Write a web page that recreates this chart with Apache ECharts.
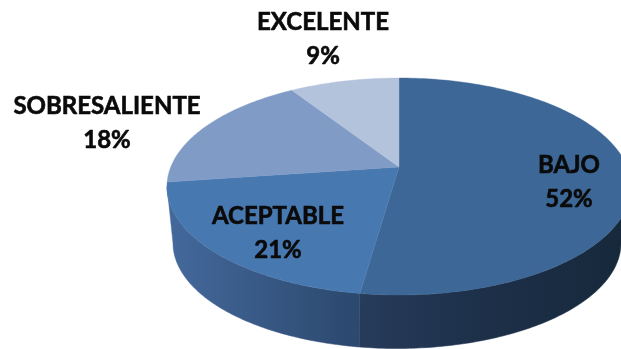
<!DOCTYPE html>
<html>
<head>
<meta charset="utf-8">
<style>html,body{margin:0;padding:0;background:#fff}#chart{width:621px;height:349px}</style>
<script src="https://cdn.jsdelivr.net/npm/echarts@6/dist/echarts.min.js"></script>
</head>
<body>
<div id="chart"></div>
<script>
// Distribution of levels
const categories = ['BAJO', 'ACEPTABLE', 'SOBRESALIENTE', 'EXCELENTE'];
const percentages = [52, 21, 18, 9];

const topColors = ['#3d6796', '#4878b0', '#7f9bc6', '#b4c3dc'];
const wallStops = [
  [[0, '#273b5b'], [0.45, '#1d3049'], [1, '#16283a']],
  [[0, '#44699c'], [1, '#2b486d']]
];
const labelCenters = [[569, 182], [278, 233], [107, 123], [323, 39]];

// Tilted disc: upper rim, lower rim and the hub where the slices meet
const hub = [399, 167];
const upperRim = { cx: 399, cy: 186.5, rx: 232, ry: 108.5 };
const lowerRim = { cx: 397, cy: 243, rx: 224, ry: 105.5 };
const rad = Math.PI / 180;

// Foreshortening of the tilted view: share angle -> angle along the rim
const rimAngle = (deg) => deg + -8.9 * Math.sin(deg * rad) + 0.7 * (1 - Math.cos(deg * rad));
const rimPoint = (rim, t) => [rim.cx + rim.rx * Math.sin(t * rad), rim.cy - rim.ry * Math.cos(t * rad)];

const total = percentages.reduce((a, b) => a + b, 0);
const sliceSpan = (i) => {
  const before = percentages.slice(0, i).reduce((a, b) => a + b, 0);
  return [before / total * 360, (before + percentages[i]) / total * 360];
};

function arc(rim, t0, t1) {
  const pts = [];
  const n = Math.max(2, Math.ceil(Math.abs(t1 - t0)));
  for (let k = 0; k <= n; k++) pts.push(rimPoint(rim, t0 + (t1 - t0) * k / n));
  return pts;
}

// Only the front half of the disc shows its side wall
function renderWall(params, api) {
  const i = api.value(0);
  const span = sliceSpan(i);
  const t0 = Math.max(rimAngle(span[0]), 90);
  const t1 = Math.min(rimAngle(span[1]), 270);
  if (t1 <= t0) return { type: 'group', children: [] };
  const points = arc(upperRim, t0, t1).concat(arc(lowerRim, t1, t0));
  const stops = wallStops[i].map(([offset, color]) => ({ offset, color }));
  const fill = new echarts.graphic.LinearGradient(0, 0, 1, 0, stops);
  return { type: 'polygon', shape: { points }, style: { fill, stroke: fill, lineWidth: 0.5 } };
}

function renderTop(params, api) {
  const i = api.value(0);
  const span = sliceSpan(i);
  const points = [hub].concat(arc(upperRim, rimAngle(span[0]), rimAngle(span[1])));
  return {
    type: 'polygon',
    shape: { points },
    style: { fill: topColors[i], stroke: topColors[i], lineWidth: 0.4 }
  };
}

function renderLabel(params, api) {
  const i = api.value(0);
  return {
    type: 'text',
    x: labelCenters[i][0],
    y: labelCenters[i][1],
    style: {
      text: categories[i] + '\n' + percentages[i] + '%',
      fill: '#0a0a0a',
      stroke: '#0a0a0a',
      lineWidth: 0.6,
      font: 'bold 24px Lato',
      lineHeight: 34,
      align: 'center',
      verticalAlign: 'middle'
    }
  };
}

const indices = categories.map((_, i) => [i]);
const chart = echarts.init(document.getElementById('chart'), null, { renderer: 'canvas' });
chart.setOption({
  animation: false,
  backgroundColor: '#ffffff',
  series: [
    { type: 'custom', coordinateSystem: 'none', data: indices, renderItem: renderWall, silent: true, z: 1 },
    { type: 'custom', coordinateSystem: 'none', data: indices, renderItem: renderTop, silent: true, z: 2 },
    { type: 'custom', coordinateSystem: 'none', data: indices, renderItem: renderLabel, silent: true, z: 3 }
  ]
});
</script>
</body>
</html>
